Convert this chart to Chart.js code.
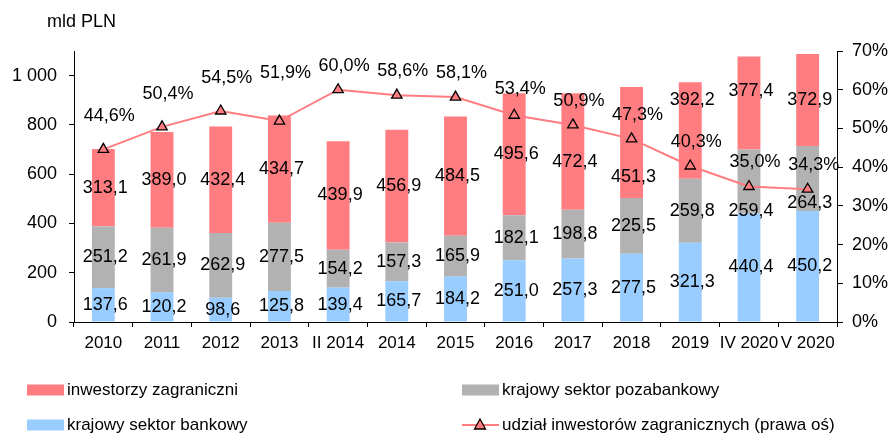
<!DOCTYPE html>
<html>
<head>
<meta charset="utf-8">
<script src="https://cdn.jsdelivr.net/npm/chart.js@4/dist/chart.umd.min.js"></script>
<style>
  html, body { margin: 0; padding: 0; background: #fff; }
  #wrap { width: 892px; height: 434px; position: relative; }
</style>
</head>
<body>
<div id="wrap"><canvas id="chart" width="892" height="434"></canvas></div>
<script>
const categories = ["2010", "2011", "2012", "2013", "II 2014", "2014", "2015", "2016", "2017", "2018", "2019", "IV 2020", "V 2020"];
const bankowy = [137.6, 120.2, 98.6, 125.8, 139.4, 165.7, 184.2, 251.0, 257.3, 277.5, 321.3, 440.4, 450.2];
const pozabankowy = [251.2, 261.9, 262.9, 277.5, 154.2, 157.3, 165.9, 182.1, 198.8, 225.5, 259.8, 259.4, 264.3];
const zagraniczni = [313.1, 389.0, 432.4, 434.7, 439.9, 456.9, 484.5, 495.6, 472.4, 451.3, 392.2, 377.4, 372.9];
const udzial = [44.6, 50.4, 54.5, 51.9, 60.0, 58.6, 58.1, 53.4, 50.9, 47.3, 40.3, 35.0, 34.3];
const leftTicks = [0, 200, 400, 600, 800, 1000];
const rightTicks = [0, 10, 20, 30, 40, 50, 60, 70];

const RED = "#FF7C80";
const GRAY = "#B2B2B2";
const BLUE = "#99CCFF";
const FONT = "'Liberation Sans', Arial, sans-serif";

const fmt = (v, d) => v.toFixed(d).replace(".", ",");
const fmtThousands = (v) => String(v).replace(/\B(?=(\d{3})+(?!\d))/g, " ");

// a few labels were moved by hand in the original to avoid overlaps
// key: datasetIndex-pointIndex, value: vertical shift in px
const labelNudge = {
  "0-0": -9, "0-1": -9, "0-2": -9, "0-3": -24, "0-7": -2,
  "3-8": 11, "3-9": 35, "3-10": -30, "3-11": -12, "2-11": 29, "2-12": 25
};

const labelsPlugin = {
  id: "labels",
  afterDatasetsDraw(chart) {
    const ctx = chart.ctx;
    ctx.save();
    ctx.fillStyle = "#000";
    ctx.font = "18px " + FONT;
    ctx.textAlign = "center";
    ctx.textBaseline = "middle";
    chart.data.datasets.forEach((ds, di) => {
      const meta = chart.getDatasetMeta(di);
      meta.data.forEach((el, i) => {
        const v = ds.data[i];
        const nudge = labelNudge[di + "-" + i] || 0;
        if (ds.type === "line") {
          ctx.fillText(fmt(v, 1) + "%", el.x + 6, el.y - 24 + nudge);
        } else {
          const y = (el.y + el.base) / 2 + nudge;
          ctx.fillText(fmt(v, 1), el.x + 2, y);
        }
      });
    });
    ctx.restore();
  },
  afterDraw(chart) {
    const ctx = chart.ctx;
    ctx.save();
    ctx.fillStyle = "#000";
    ctx.font = "18px " + FONT;
    ctx.textBaseline = "middle";
    ctx.textAlign = "left";
    ctx.fillText("mld PLN", 47, 22);

    // legend
    ctx.font = "17px " + FONT;
    const items = [
      { text: "inwestorzy zagraniczni", color: RED, x: 27, y: 390 },
      { text: "krajowy sektor pozabankowy", color: GRAY, x: 462, y: 390 },
      { text: "krajowy sektor bankowy", color: BLUE, x: 27, y: 425 },
      { text: "udział inwestorów zagranicznych (prawa oś)", color: RED, x: 462, y: 425, line: true }
    ];
    items.forEach((it) => {
      if (it.line) {
        ctx.strokeStyle = RED;
        ctx.lineWidth = 2;
        ctx.beginPath();
        ctx.moveTo(it.x, it.y);
        ctx.lineTo(it.x + 37, it.y);
        ctx.stroke();
        const cx = it.x + 18;
        ctx.beginPath();
        ctx.moveTo(cx, it.y - 6);
        ctx.lineTo(cx + 5.5, it.y + 4);
        ctx.lineTo(cx - 5.5, it.y + 4);
        ctx.closePath();
        ctx.fillStyle = RED;
        ctx.fill();
        ctx.strokeStyle = "#000";
        ctx.lineWidth = 1.3;
        ctx.stroke();
      } else {
        ctx.fillStyle = it.color;
        ctx.fillRect(it.x, it.y - 5.5, 37, 11);
      }
      ctx.fillStyle = "#000";
      ctx.fillText(it.text, it.x + 40, it.y);
    });
    ctx.restore();
  }
};

const barBase = { type: "bar", yAxisID: "y", stack: "s", order: 1, barPercentage: 0.39, categoryPercentage: 1 };

new Chart(document.getElementById("chart"), {
  data: {
    labels: categories,
    datasets: [
      {
        type: "line",
        label: "udział inwestorów zagranicznych (prawa oś)",
        data: udzial,
        yAxisID: "y1",
        order: 0,
        borderColor: RED,
        borderWidth: 2,
        pointStyle: "triangle",
        pointRadius: 6,
        pointBackgroundColor: RED,
        pointBorderColor: "#000",
        pointBorderWidth: 1.3,
        tension: 0
      },
      { ...barBase, label: "krajowy sektor bankowy", data: bankowy, backgroundColor: BLUE },
      { ...barBase, label: "krajowy sektor pozabankowy", data: pozabankowy, backgroundColor: GRAY },
      { ...barBase, label: "inwestorzy zagraniczni", data: zagraniczni, backgroundColor: RED }
    ]
  },
  options: {
    responsive: false,
    animation: false,
    layout: { padding: { top: 51, bottom: 82, left: 0, right: 0 } },
    plugins: { legend: { display: false }, tooltip: { enabled: false } },
    scales: {
      x: {
        stacked: true,
        offset: true,
        grid: { drawOnChartArea: false, offset: true, tickLength: 5, color: "#000" },
        border: { color: "#000", width: 1 },
        ticks: { color: "#000", font: { family: FONT, size: 17 }, padding: 6, maxRotation: 0, autoSkip: false },
        afterFit(scale) { scale.height = 30; }
      },
      y: {
        stacked: true,
        position: "left",
        min: 0,
        max: 1100,
        afterBuildTicks(scale) { scale.ticks = leftTicks.map((v) => ({ value: v })); },
        grid: { drawOnChartArea: false, tickLength: 5, color: "#000" },
        border: { color: "#000", width: 1 },
        ticks: { color: "#000", font: { family: FONT, size: 18 }, padding: 12, callback: (v) => fmtThousands(v) },
        afterFit(scale) { scale.width = 74; }
      },
      y1: {
        position: "right",
        min: 0,
        max: 70,
        afterBuildTicks(scale) { scale.ticks = rightTicks.map((v) => ({ value: v })); },
        grid: { drawOnChartArea: false, tickLength: 6, color: "#000" },
        border: { color: "#000", width: 1 },
        ticks: { color: "#000", font: { family: FONT, size: 18 }, padding: 9, callback: (v) => v + "%" },
        afterFit(scale) { scale.width = 55; }
      }
    }
  },
  plugins: [labelsPlugin]
});
</script>
</body>
</html>
